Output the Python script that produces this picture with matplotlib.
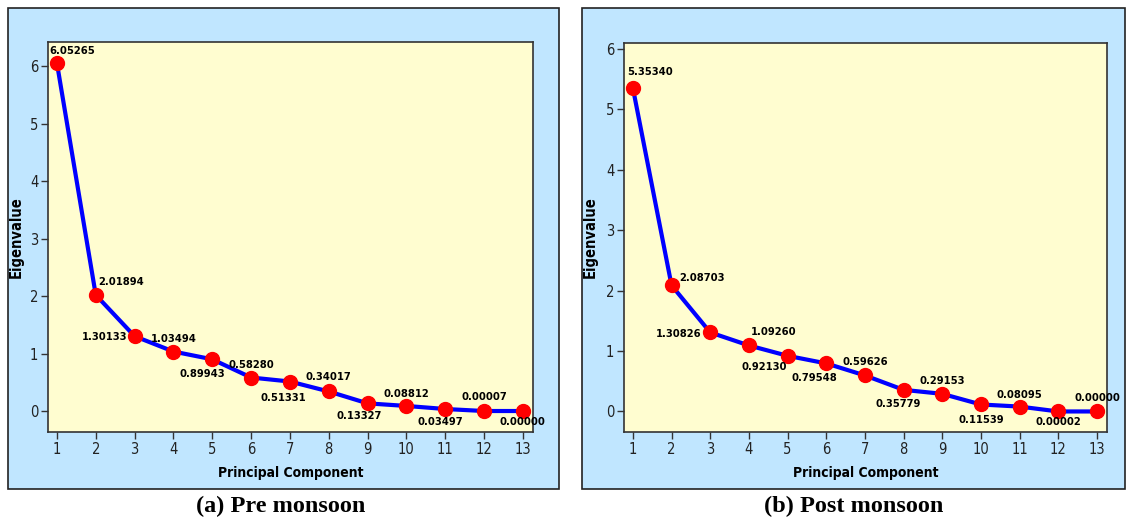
import matplotlib
matplotlib.use("Agg")
import matplotlib.pyplot as plt
from matplotlib.patches import Rectangle

# ── data ──────────────────────────────────────────────────────────────────────
components = list(range(1, 14))
pre_eigen = [6.05265, 2.01894, 1.30133, 1.03494, 0.89943, 0.58280, 0.51331,
             0.34017, 0.13327, 0.08812, 0.03497, 0.00007, 0.00000]
post_eigen = [5.35340, 2.08703, 1.30826, 1.09260, 0.92130, 0.79548, 0.59626,
              0.35779, 0.29153, 0.11539, 0.08095, 0.00002, 0.00000]
captions = ["(a) Pre monsoon", "(b) Post monsoon"]

# label placement (offset pixels, alignment) for each point
pre_offsets = [(-8, 12, "left"), (2, 13, "left"), (-7, -1, "right"), (0, 13, "center"),
               (-10, -15, "center"), (0, 13, "center"), (-7, -16, "center"),
               (0, 14, "center"), (-8, -13, "center"), (0, 12, "center"),
               (-5, -13, "center"), (0, 14, "center"), (0, -11, "center")]
post_offsets = [(-6, 16, "left"), (8, 7, "left"), (-9, -2, "right"), (25, 13, "center"),
                (-23, -11, "center"), (-12, -15, "center"), (0, 13, "center"),
                (-5, -14, "center"), (0, 13, "center"), (0, -16, "center"),
                (0, 12, "center"), (0, -11, "center"), (0, 13, "center")]

PANEL_BG = "#C0E6FF"
AXES_BG = "#FFFDD0"
SANS = "DejaVu Sans"

W, H = 1126, 519
fig = plt.figure(figsize=(W / 100, H / 100), dpi=100)


def fx(px):
    return px / W


def fy(py):
    return 1 - py / H


panels = [
    dict(box=(8, 8, 559, 489), ax=(48, 42, 533, 432), ylim=(-0.365, 6.42),
         data=pre_eigen, offs=pre_offsets, cap_x=281),
    dict(box=(582, 8, 1125, 489), ax=(624, 43, 1107, 432), ylim=(-0.34, 6.10),
         data=post_eigen, offs=post_offsets, cap_x=854),
]

for p, cap in zip(panels, captions):
    x0, y0, x1, y1 = p["box"]
    fig.patches.append(Rectangle((fx(x0), fy(y1)), fx(x1 - x0), (y1 - y0) / H,
                                 transform=fig.transFigure, facecolor=PANEL_BG,
                                 edgecolor="#222222", linewidth=1.2, zorder=-5))
    a0, b0, a1, b1 = p["ax"]
    ax = fig.add_axes([fx(a0), fy(b1), fx(a1 - a0), (b1 - b0) / H])
    ax.set_facecolor(AXES_BG)
    ax.plot(components, p["data"], color="#0000FF", linewidth=3, zorder=2)
    ax.plot(components, p["data"], "o", color="#FF0000", markersize=10, zorder=3)
    for xv, yv, (dx, dy, ha) in zip(components, p["data"], p["offs"]):
        ax.annotate(f"{yv:.5f}", (xv, yv), xytext=(dx, dy), textcoords="offset pixels",
                    ha=ha, va="center", fontsize=8, fontweight="bold",
                    family=SANS, fontstretch="condensed", zorder=4,
                    annotation_clip=False)
    ax.set_xlim(0.77, 13.26)
    ax.set_ylim(*p["ylim"])
    ax.set_xticks(components)
    ax.set_yticks(range(0, 7))
    ax.tick_params(direction="out", length=5, width=1, color="#333333", labelsize=10.5,
                   pad=2, labelcolor="#222222")
    for lab in ax.get_xticklabels() + ax.get_yticklabels():
        lab.set_family(SANS)
        lab.set_fontstretch("condensed")
    for s in ax.spines.values():
        s.set_color("#333333")
        s.set_linewidth(1.2)
    ax.set_xlabel("Principal Component", fontsize=10, fontweight="bold", family=SANS,
                  fontstretch="condensed")
    ax.xaxis.set_label_coords(0.5, -(473 - b1) / (b1 - b0))
    ax.xaxis.label.set_va("center")
    ax.set_ylabel("Eigenvalue", fontsize=10.5, fontweight="bold", family=SANS,
                  fontstretch="condensed", va="center")
    ax.yaxis.set_label_coords(-(a0 - (x0 + 8)) / (a1 - a0), 0.5)
    fig.text(fx(p["cap_x"]), fy(506), cap, ha="center", va="center", fontsize=17.5,
             fontweight="bold", family="Liberation Serif")

fig.savefig("out.png", dpi=100)
